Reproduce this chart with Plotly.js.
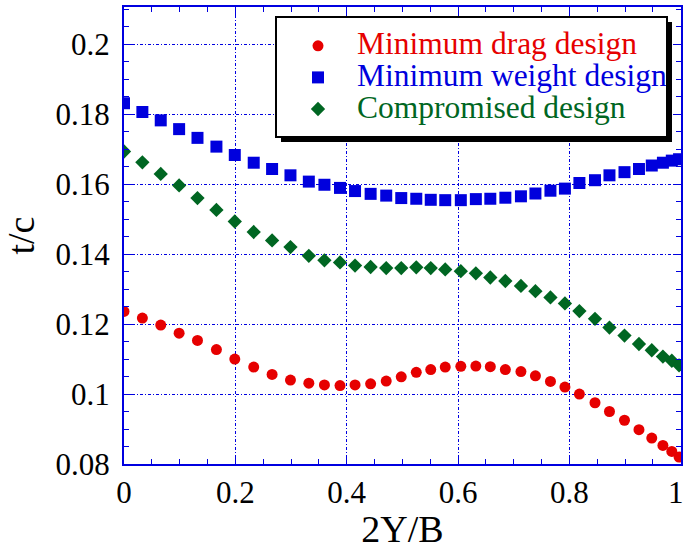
<!DOCTYPE html>
<html>
<head>
<meta charset="utf-8">
<script src="https://cdn.plot.ly/plotly-3.0.1.min.js"></script>
<style>
html,body{margin:0;padding:0;background:#fff;}
#chart{width:683px;height:550px;}
</style>
</head>
<body>
<div id="chart"></div>
<script>
// x stations (2Y/B)
var xStations = [0.000, 0.033, 0.066, 0.099, 0.132, 0.166, 0.199, 0.233, 0.266, 0.299,
  0.332, 0.360, 0.388, 0.415, 0.443, 0.471, 0.498, 0.525, 0.551, 0.577,
  0.605, 0.632, 0.658, 0.685, 0.713, 0.739, 0.766, 0.792, 0.818, 0.846,
  0.872, 0.899, 0.925, 0.948, 0.968, 0.984, 0.997];

var minDrag = [0.1236, 0.1217, 0.1197, 0.1174, 0.1153, 0.1127, 0.1100, 0.1077, 0.1056, 0.1040,
  0.1031, 0.1026, 0.1024, 0.1026, 0.1029, 0.1037, 0.1049, 0.1062, 0.1070, 0.1077,
  0.1079, 0.1080, 0.1078, 0.1070, 0.1064, 0.1052, 0.1036, 0.1020, 0.1000, 0.0975,
  0.0950, 0.0925, 0.0898, 0.0874, 0.0853, 0.0836, 0.0820];

var minWeight = [0.1831, 0.1806, 0.1782, 0.1757, 0.1732, 0.1707, 0.1683, 0.1661, 0.1643, 0.1625,
  0.1607, 0.1598, 0.1589, 0.1580, 0.1572, 0.1567, 0.1560, 0.1558, 0.1555, 0.1554,
  0.1554, 0.1557, 0.1558, 0.1561, 0.1565, 0.1573, 0.1581, 0.1587, 0.1603, 0.1611,
  0.1625, 0.1634, 0.1643, 0.1653, 0.1661, 0.1667, 0.1671];

var compromised = [0.1693, 0.1662, 0.1629, 0.1596, 0.1560, 0.1526, 0.1493, 0.1463, 0.1439, 0.1420,
  0.1395, 0.1382, 0.1376, 0.1367, 0.1363, 0.1360, 0.1360, 0.1362, 0.1360, 0.1356,
  0.1351, 0.1345, 0.1333, 0.1323, 0.1309, 0.1294, 0.1276, 0.1259, 0.1237, 0.1215,
  0.1190, 0.1167, 0.1143, 0.1125, 0.1107, 0.1095, 0.1082];

var seriesNames = ['Minimum drag design', 'Minimum weight design', 'Compromised design'];
var RED = '#e60000', BLUE = '#0000dd', GREEN = '#006622';
var AXC = '#0000e0';
var FONT = 'Liberation Serif';

var traces = [
  {x: xStations, y: minDrag, name: seriesNames[0], type: 'scatter', mode: 'markers',
   marker: {symbol: 'circle', size: 11, color: RED}},
  {x: xStations, y: minWeight, name: seriesNames[1], type: 'scatter', mode: 'markers',
   marker: {symbol: 'square', size: 12, color: BLUE}},
  {x: xStations, y: compromised, name: seriesNames[2], type: 'scatter', mode: 'markers',
   marker: {symbol: 'diamond', size: 11, color: GREEN}}
];

function axisBase(){
  return {
    showline: true, linecolor: AXC, linewidth: 2, mirror: 'allticks',
    ticks: 'inside', ticklen: 8, tickwidth: 1, tickcolor: AXC,
    showgrid: true, gridcolor: AXC, gridwidth: 1, griddash: '3px,2px,1px,2px',
    zeroline: false, ticklabeloverflow: 'allow',
    tickfont: {family: FONT, size: 31, color: '#000'}
  };
}

// pixel geometry of plot area (for legend frame placement)
var PL = 124, PR = 681, PT = 7, PB = 464;
var BOX = {left: 276, top: 17, right: 667, bottom: 137, shadow: 5};
var LEGPOS = {left: 279, top: 25};
function px2x(p){ return (p - PL) / (PR - PL); }
function py2y(p){ return (PB - p) / (PB - PT); }

var layout = {
  width: 683, height: 550,
  margin: {l: PL, r: 683 - PR, t: PT, b: 550 - PB},
  paper_bgcolor: '#fff', plot_bgcolor: '#fff',
  font: {family: FONT, size: 31, color: '#000'},
  showlegend: true,
  xaxis: Object.assign(axisBase(), {
    range: [0, 1.0005], dtick: 0.2, tick0: 0,
    minor: {dtick: 0.05, ticks: 'inside', ticklen: 5, tickcolor: AXC, showgrid: false},
    title: {text: '2Y/B', font: {family: FONT, size: 38, color: '#000'}, standoff: 6}
  }),
  yaxis: Object.assign(axisBase(), {
    range: [0.08, 0.2106], dtick: 0.02, tick0: 0.08,
    ticklabelstandoff: 6,
    minor: {dtick: 0.005, ticks: 'inside', ticklen: 5, tickcolor: AXC, showgrid: false},
    title: {text: 't/c', font: {family: FONT, size: 38, color: '#000'}, standoff: 10}
  }),
  legend: {
    x: px2x(LEGPOS.left), y: py2y(LEGPOS.top), xanchor: 'left', yanchor: 'top',
    bgcolor: 'rgba(0,0,0,0)', borderwidth: 0,
    font: {family: FONT, size: 22},
    itemwidth: 68, tracegroupgap: 0
  },
  shapes: [
    {type: 'rect', xref: 'paper', yref: 'paper',
     x0: px2x(BOX.left + BOX.shadow), x1: px2x(BOX.right + BOX.shadow),
     y0: py2y(BOX.bottom + BOX.shadow), y1: py2y(BOX.top + BOX.shadow),
     fillcolor: '#000', line: {width: 0}, layer: 'above'},
    {type: 'rect', xref: 'paper', yref: 'paper',
     x0: px2x(BOX.left), x1: px2x(BOX.right),
     y0: py2y(BOX.bottom), y1: py2y(BOX.top),
     fillcolor: '#fff', line: {width: 2, color: '#000'}, layer: 'above'}
  ]
};

Plotly.newPlot('chart', traces, layout, {displayModeBar: false, staticPlot: true}).then(function(gd){
  var cols = [RED, BLUE, GREEN];
  var texts = gd.querySelectorAll('.legend .legendtext');
  texts.forEach(function(t, i){ t.style.fill = cols[i]; t.style.fontSize = '31.5px'; t.style.fontFamily = FONT; });
  gd.querySelectorAll('.legend [clip-path]').forEach(function(e){ e.removeAttribute('clip-path'); });
  gd.querySelectorAll('.xtick text, .ytick text').forEach(function(t){ t.style.fontFamily = FONT; });
  // keep the last x tick label ("1") inside the picture edge
  gd.querySelectorAll('.xtick text').forEach(function(t){
    if (t.textContent === '1') t.setAttribute('dx', '-5');
  });
});
</script>
</body>
</html>
